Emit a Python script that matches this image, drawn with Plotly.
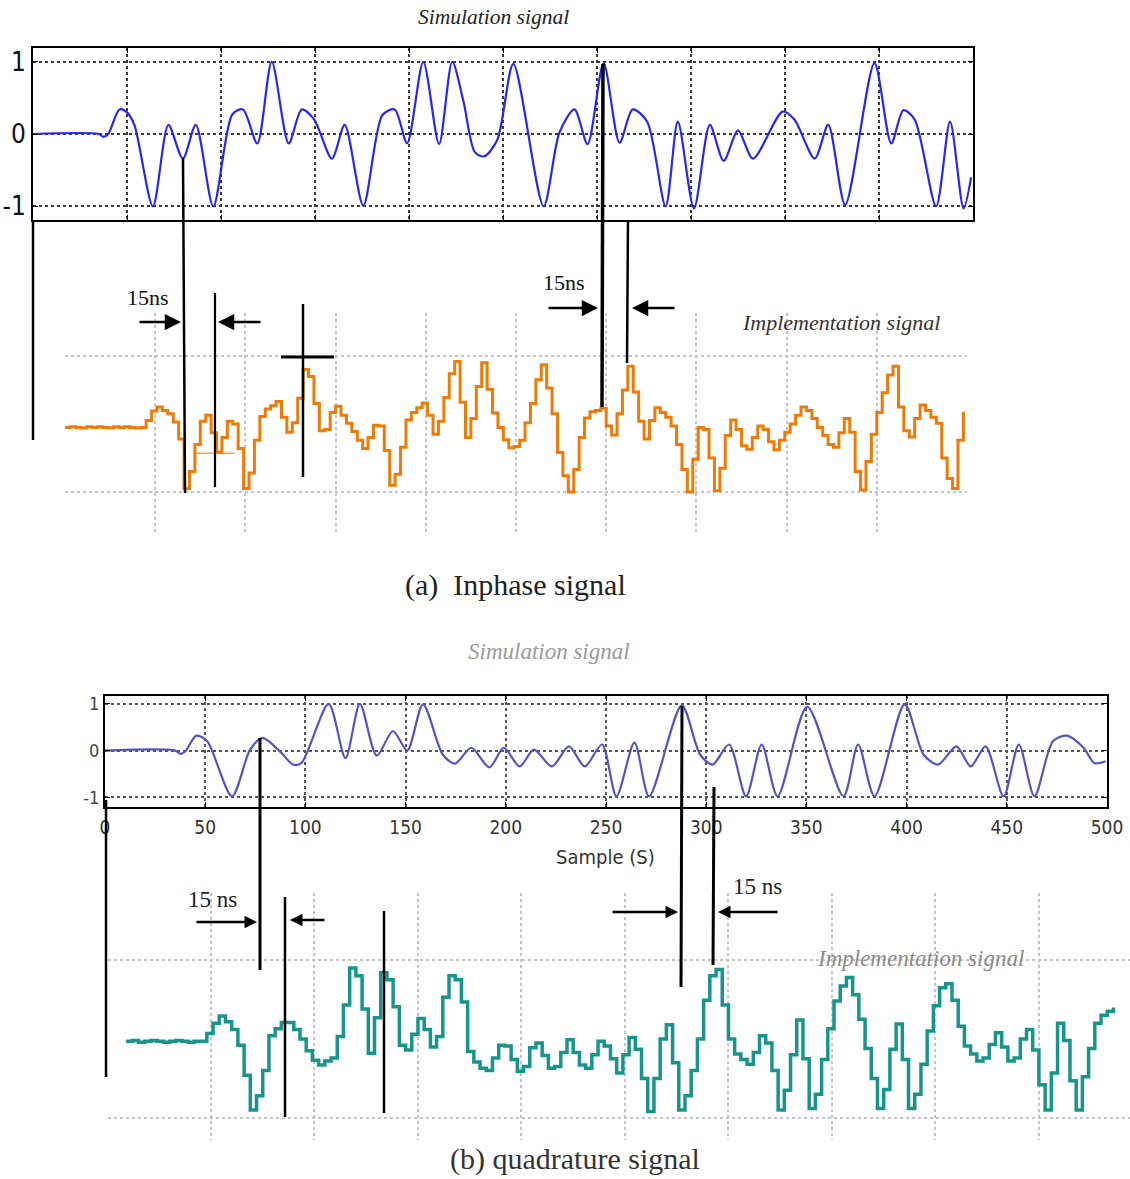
import plotly.graph_objects as go

W, H = 1130, 1179

# ---------------- data ----------------
# (a) Inphase - simulation signal (keypoints)
simA_x = [0, 35, 37.5, 40, 46, 50, 54, 63.8, 72, 79.7, 86.6, 95.9, 106, 111.7, 119.3, 127, 136, 143,
          149.6, 159, 165.8, 175.7, 185.8, 192.4, 199, 207.6, 216, 223, 229, 235, 240, 247, 255.5,
          271.6, 280, 288, 295, 303.5, 312, 319, 326.7, 336.5, 343, 351.6, 360, 367.4, 375, 383,
          398.7, 405, 415.8, 423, 432, 447.6, 456.5, 463, 469, 480.4, 487.8, 495, 499]
simA_y = [0, 0, -0.04, 0.0, 0.34, 0.3, 0.12, -1.0, 0.125, -0.34, 0.125, -1.0, 0.27, 0.34, -0.13, 1.0, -0.13, 0.34,
          0.2, -0.34, 0.125, -0.99, 0.26, 0.34, -0.13, 1.0, -0.14, 1.0, 0.45, -0.25, -0.31, -0.08, 0.97,
          -1.0, 0.02, 0.34, -0.14, 0.98, -0.12, 0.34, 0.17, -1.0, 0.17, -1.03, 0.125, -0.37, 0.05, -0.34,
          0.31, 0.2, -0.34, 0.125, -0.98, 0.98, -0.13, 0.33, 0.2, -1.0, 0.17, -1.03, -0.6]

# (a) Inphase - implementation signal (stair values every 3 samples)
implA_x = list(range(0, 499, 3))
implA_y = [-0.05, -0.04, -0.05, -0.06, -0.04, -0.05, -0.04, -0.05, -0.06, -0.04,
           -0.05, -0.04, -0.05, -0.06, -0.05, 0.05, 0.19, 0.25, 0.2, 0.15,
           0.03, -0.22, -0.95, -0.7, -0.3, 0.04, 0.13, -0.13, -0.41, -0.2,
           0.04, 0.0, -0.36, -0.95, -0.72, -0.24, 0.11, 0.22, 0.27, 0.33,
           0.1, -0.12, 0.02, 0.38, 0.8, 0.7, 0.3, -0.1, -0.08, 0.17,
           0.26, 0.13, 0.01, -0.11, -0.24, -0.36, -0.2, -0.02, -0.03, -0.39,
           -0.9, -0.74, -0.34, 0.06, 0.17, 0.24, 0.31, 0.13, -0.15, 0.04,
           0.39, 0.74, 0.92, 0.32, -0.2, 0.08, 0.55, 0.9, 0.51, 0.16,
           -0.05, -0.23, -0.35, -0.33, -0.24, 0.02, 0.3, 0.65, 0.87, 0.53,
           0.15, -0.42, -0.76, -1.0, -0.67, -0.2, 0.09, 0.18, 0.2, 0.23,
           -0.03, -0.16, 0.15, 0.5, 0.85, 0.47, 0.04, -0.22, 0.05, 0.24,
           0.17, 0.1, -0.03, -0.3, -0.67, -1.0, -0.52, -0.05, -0.08, -0.5,
           -0.98, -0.65, -0.17, 0.06, -0.08, -0.32, -0.37, -0.2, -0.03, -0.08,
           -0.26, -0.38, -0.24, -0.12, 0.0, 0.13, 0.25, 0.2, 0.08, -0.05,
           -0.17, -0.3, -0.34, -0.13, 0.08, -0.12, -0.7, -0.97, -0.55, -0.15,
           0.17, 0.46, 0.72, 0.85, 0.25, -0.1, -0.19, 0.08, 0.28, 0.2,
           0.1, 0.01, -0.5, -0.8, -0.95, -0.24, 0.18]
implA_glitch_x = [73, 94]
implA_glitch_y = [-0.43, -0.43]

# (b) Quadrature - simulation signal (keypoints)
simB_x = [0, 35, 37.6, 40, 45.6, 51, 63.4, 72.4, 78.6, 88, 93.8, 98, 111.6, 120, 127.2, 135.6, 143.7,
          150.8, 158.7, 168.6, 174.7, 182.8, 191.8, 199, 206.9, 214, 223, 231.5, 239.4, 248, 255.2,
          264.2, 271.5, 287.8, 297, 303.2, 311.4, 319.9, 327.7, 335.6, 350.4, 368.5, 375.8, 384, 399,
          408.5, 415.7, 424.9, 432, 439.4, 448.4, 456, 463.8, 473, 480, 488.3, 493.8, 499.3]
simB_y = [0, 0, -0.07, -0.02, 0.32, 0.2, -0.98, 0.02, 0.27, -0.05, -0.3, -0.27, 1.0, -0.16, 1.0, -0.11, 0.42,
          0.0, 0.99, -0.09, -0.28, 0.06, -0.36, 0.06, -0.34, 0.02, -0.34, 0.09, -0.34, 0.13, -0.98,
          0.17, -0.98, 0.97, -0.09, -0.3, 0.13, -0.98, 0.13, -0.98, 0.94, -0.98, 0.13, -0.98, 0.99,
          -0.09, -0.3, 0.09, -0.34, 0.09, -0.98, 0.13, -0.98, 0.2, 0.32, 0.06, -0.27, -0.23]

# (b) Quadrature - implementation signal (stair values every 3 samples)
implB_x = list(range(9, 487, 3))
implB_y = [-0.03, -0.02, -0.04, -0.03, -0.02, -0.03, -0.04, -0.03, -0.02, -0.03,
           -0.04, -0.03, -0.03, 0.07, 0.2, 0.29, 0.22, 0.12, -0.08, -0.46,
           -0.9, -0.72, -0.4, 0.04, 0.13, 0.21, 0.21, 0.12, 0.0, -0.15,
           -0.27, -0.33, -0.28, -0.24, 0.03, 0.43, 0.9, 0.8, 0.38, -0.18,
           0.27, 0.84, 0.75, 0.41, -0.08, -0.14, 0.06, 0.26, 0.12, -0.1,
           0.03, 0.53, 0.8, 0.75, 0.47, -0.16, -0.29, -0.37, -0.4, -0.24,
           -0.08, -0.09, -0.26, -0.41, -0.35, -0.11, -0.05, -0.21, -0.37, -0.35,
           -0.17, -0.01, -0.17, -0.33, -0.37, -0.2, -0.03, -0.09, -0.25, -0.43,
           -0.2, 0.02, -0.13, -0.5, -0.92, -0.5, 0.0, 0.18, -0.3, -0.9,
           -0.72, -0.4, 0.0, 0.49, 0.8, 0.88, 0.43, 0.0, -0.19, -0.26,
           -0.32, -0.17, 0.04, -0.05, -0.4, -0.9, -0.65, -0.2, 0.24, -0.25,
           -0.88, -0.7, -0.26, 0.13, 0.48, 0.67, 0.78, 0.56, 0.25, -0.12,
           -0.5, -0.88, -0.64, -0.13, 0.19, -0.26, -0.88, -0.7, -0.32, 0.1,
           0.42, 0.65, 0.7, 0.49, 0.16, -0.09, -0.19, -0.28, -0.24, -0.07,
           0.08, -0.1, -0.28, -0.24, 0.0, 0.12, -0.14, -0.58, -0.9, -0.43,
           0.2, -0.02, -0.53, -0.9, -0.48, -0.12, 0.2, 0.3, 0.35, 0.4]

sim_yticks = [-1, 0, 1]
sim_yticklabels = ["-1", "0", "1"]
impl_ylines = [-1, 1]


# ---------------- helpers (pixel -> paper) ----------------
def px(x):
    return x / W


def py(y):
    return 1 - y / H


SERIF = "Liberation Serif, Times New Roman, serif"
SANS = "Liberation Sans Narrow, DejaVu Sans Condensed, Liberation Sans, Arial, sans-serif"

fig = go.Figure()
fig.add_trace(go.Scatter(x=simA_x, y=simA_y, mode="lines", xaxis="x", yaxis="y",
                         line=dict(color="#2626f5", width=2.2, shape="spline", smoothing=0.8)))
fig.add_trace(go.Scatter(x=implA_glitch_x, y=implA_glitch_y, mode="lines", xaxis="x2", yaxis="y2",
                         line=dict(color="#f5a04a", width=1.5)))
fig.add_trace(go.Scatter(x=implA_x, y=implA_y, mode="lines", xaxis="x2", yaxis="y2",
                         line=dict(color="#f07a05", width=3, shape="hv")))
fig.add_trace(go.Scatter(x=simB_x, y=simB_y, mode="lines", xaxis="x3", yaxis="y3",
                         line=dict(color="#5353c8", width=2.2, shape="spline", smoothing=0.8)))
fig.add_trace(go.Scatter(x=implB_x, y=implB_y, mode="lines", xaxis="x4", yaxis="y4",
                         line=dict(color="#17958d", width=3.5, shape="hv")))

box_common = dict(showline=True, linecolor="black", linewidth=2, mirror="allticks",
                  ticks="inside", ticklen=5, tickcolor="black", zeroline=False, automargin=False,
                  showgrid=True, griddash="dot", gridwidth=1.5)
impl_common = dict(showline=False, zeroline=False, ticks="", showticklabels=False, automargin=False,
                   showgrid=True, gridcolor="#c4c4c4", griddash="dot", gridwidth=1.5)

fig.update_layout(
    width=W, height=H, margin=dict(l=0, r=0, t=0, b=0, autoexpand=False),
    paper_bgcolor="white", plot_bgcolor="white", showlegend=False,
    xaxis=dict(domain=[px(33), px(973)], range=[0, 500], anchor="y", tickmode="linear", tick0=0, dtick=50,
               showticklabels=False, gridcolor="#3a3a3a", **box_common),
    yaxis=dict(domain=[py(220), py(48)], range=[-1.19, 1.19], anchor="x", tickvals=sim_yticks,
               ticktext=sim_yticklabels, tickfont=dict(size=26, family=SANS, color="#111"),
               gridcolor="#3a3a3a", **box_common),
    xaxis2=dict(domain=[px(65), px(967)], range=[0, 500], anchor="y2", tickmode="linear", tick0=0, dtick=50,
                **impl_common),
    yaxis2=dict(domain=[py(535), py(313)], range=[-1.632, 1.632], anchor="x2", tickvals=impl_ylines,
                **impl_common),
    xaxis3=dict(domain=[px(105), px(1107)], range=[0, 500], anchor="y3", tickmode="linear", tick0=0, dtick=50,
                showticklabels=True, tickfont=dict(size=19, family=SANS, color="#333"),
                ticklabelstandoff=2, gridcolor="#555", **box_common),
    yaxis3=dict(domain=[py(807), py(696)], range=[-1.21, 1.17], anchor="x3", tickvals=sim_yticks,
                ticktext=sim_yticklabels, tickfont=dict(size=18, family=SANS, color="#444"),
                gridcolor="#555", **box_common),
    xaxis4=dict(domain=[px(107.5), 1.0], range=[0, 494], anchor="y4", tickmode="linear", tick0=0, dtick=50,
                **impl_common),
    yaxis4=dict(domain=[py(1140), py(893)], range=[-1.28, 1.85], anchor="x4", tickvals=impl_ylines,
                **impl_common),
)

# marker lines (pixel coords: x0, y0, x1, y1, width)
marker_lines = [
    (33, 220, 33, 440, 2.5), (183, 158, 185, 493, 2.5), (215, 293, 215, 487, 2.2),
    (303, 304, 303, 477, 2.5), (281, 357, 334, 357, 3), (603, 64, 602, 407, 3.5),
    (628, 220, 627, 363, 2.5),
    (106, 800, 106, 1077, 2.5), (260, 738, 260, 970, 3), (285, 897, 285, 1117, 2.5),
    (384, 911, 384, 1113, 2.5), (682, 706, 681, 987, 3), (714, 787, 713, 965, 3),
]
for x0, y0, x1, y1, w in marker_lines:
    fig.add_shape(type="line", xref="paper", yref="paper", x0=px(x0), y0=py(y0), x1=px(x1), y1=py(y1),
                  line=dict(color="black", width=w))

# arrows (head_x, head_y, tail_x, tail_y, size)
arrows = [
    (181, 322, 138, 322, 1.3), (218, 322, 262, 322, 1.3), (598, 308, 547, 308, 1.3), (632, 308, 676, 308, 1.3),
    (257, 922, 195, 922, 1.0), (290, 920, 326, 920, 1.0), (678, 912, 611, 912, 1.0), (718, 912, 779, 912, 1.0),
]
for hx, hy, tx, ty, s in arrows:
    fig.add_annotation(x=px(hx), y=py(hy), xref="paper", yref="paper", text="", showarrow=True,
                       ax=tx - hx, ay=ty - hy, axref="pixel", ayref="pixel", arrowhead=2, arrowsize=s,
                       arrowwidth=2.5, arrowcolor="black")

# texts (x, y, text, size, color, family)
texts = [
    (493, 17, "<i>Simulation signal</i>", 21.5, "#222", SERIF),
    (148, 298, "15ns", 22, "#111", SERIF),
    (564, 282, "15ns", 22, "#111", SERIF),
    (841, 323, "<i>Implementation signal</i>", 22, "#333", SERIF),
    (515, 585, "(a)  Inphase signal", 30, "#222", SERIF),
    (549, 652, "<i>Simulation signal</i>", 23, "#9a9a9a", SERIF),
    (605, 857, "Sample (S)", 20, "#333", SANS),
    (212, 899, "15 ns", 23, "#222", SERIF),
    (757, 886, "15 ns", 23, "#222", SERIF),
    (920, 958, "<i>Implementation signal</i>", 23, "#8a8a8a", SERIF),
    (575, 1159, "(b) quadrature signal", 30, "#333", SERIF),
]
for x, y, t, s, c, f in texts:
    fig.add_annotation(x=px(x), y=py(y), xref="paper", yref="paper", text=t, showarrow=False,
                       xanchor="center", yanchor="middle", font=dict(size=s, color=c, family=f))

fig.write_html("out.html", config={"displayModeBar": False},
               post_script="document.body.style.margin='0';document.body.style.overflow='hidden';")
